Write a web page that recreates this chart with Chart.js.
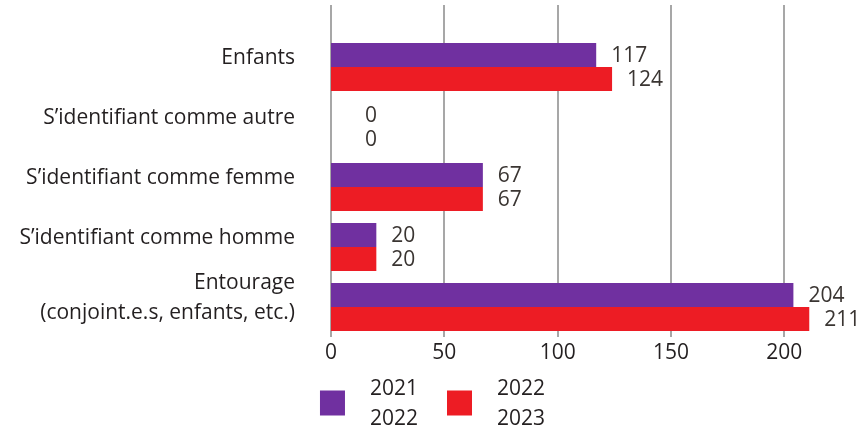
<!DOCTYPE html>
<html>
<head>
<meta charset="utf-8">
<script src="https://cdn.jsdelivr.net/npm/chart.js@4.4.0/dist/chart.umd.min.js"></script>
<style>
  html, body { margin: 0; padding: 0; background: #fff; }
</style>
</head>
<body>
<canvas id="chart" width="859" height="431"></canvas>
<script>
// categories, top to bottom
const categories = [
  'Enfants',
  'S’identifiant comme autre',
  'S’identifiant comme femme',
  'S’identifiant comme homme',
  ['Entourage', '(conjoint.e.s, enfants, etc.)']
];
const label2122 = ['2021', '2022'];
const values2122 = [117, 0, 67, 20, 204];
const label2223 = ['2022', '2023'];
const values2223 = [124, 0, 67, 20, 211];
const xTickValues = [0, 50, 100, 150, 200];

const FONT = '"Open Sans", "Noto Sans", sans-serif';
const TEXT = '#231f20';
const GRID = '#a7a7a7';

// vertical grid lines, running up above the first category
const gridLines = {
  id: 'gridLines',
  beforeDatasetsDraw(chart) {
    const { ctx, chartArea, scales } = chart;
    ctx.save();
    ctx.strokeStyle = GRID;
    ctx.lineWidth = 2;
    xTickValues.forEach(v => {
      const x = Math.round(scales.x.getPixelForValue(v));
      ctx.beginPath();
      ctx.moveTo(x, 5);
      ctx.lineTo(x, chartArea.bottom);
      ctx.stroke();
    });
    ctx.restore();
  }
};

// numbers at the end of each bar
const valueLabels = {
  id: 'valueLabels',
  afterDatasetsDraw(chart) {
    const { ctx, scales } = chart;
    const minX = scales.x.getPixelForValue(15);
    ctx.save();
    ctx.font = `21px ${FONT}`;
    ctx.fillStyle = '#3a3532';
    ctx.textAlign = 'left';
    ctx.textBaseline = 'middle';
    chart.data.datasets.forEach((ds, i) => {
      chart.getDatasetMeta(i).data.forEach((bar, j) => {
        const x = Math.max(bar.x + 15, minX);
        ctx.fillText(String(ds.data[j]), x, bar.y + 1);
      });
    });
    ctx.restore();
  }
};

// legend below the axis: square + two-line label
const bottomLegend = {
  id: 'bottomLegend',
  afterDraw(chart) {
    const { ctx, chartArea } = chart;
    const box = 25, gap = 25, spacing = 29, lineH = 30;
    ctx.save();
    ctx.font = `21px ${FONT}`;
    const items = chart.data.datasets.map(ds => {
      const w = Math.max(...ds.label.map(t => ctx.measureText(t).width));
      return { ds, w };
    });
    const total = items.reduce((s, it) => s + box + gap + it.w, 0) + spacing * (items.length - 1);
    let x = (chart.width - total) / 2 + 3;
    const cy = chartArea.bottom + 66;
    items.forEach(it => {
      ctx.fillStyle = it.ds.backgroundColor;
      ctx.fillRect(x, cy - box / 2, box, box);
      ctx.fillStyle = TEXT;
      ctx.textAlign = 'left';
      ctx.textBaseline = 'middle';
      it.ds.label.forEach((t, k) => {
        ctx.fillText(t, x + box + gap, cy + 1 + (k - 0.5) * lineH);
      });
      x += box + gap + it.w + spacing;
    });
    ctx.restore();
  }
};

new Chart(document.getElementById('chart'), {
  type: 'bar',
  data: {
    labels: categories,
    datasets: [
      { label: label2122, data: values2122, backgroundColor: '#7030a0' },
      { label: label2223, data: values2223, backgroundColor: '#ed1c24' }
    ]
  },
  options: {
    indexAxis: 'y',
    responsive: false,
    animation: false,
    layout: { padding: { top: 37, right: 18, left: 0, bottom: 0 } },
    datasets: { bar: { categoryPercentage: 0.8, barPercentage: 1.0 } },
    plugins: {
      legend: { display: false },
      tooltip: { enabled: false }
    },
    scales: {
      x: {
        min: 0, max: 225,
        afterBuildTicks: s => { s.ticks = xTickValues.map(v => ({ value: v })); },
        afterFit: s => { s.height = 94; },
        grid: { display: false, drawTicks: false },
        border: { display: false },
        ticks: { color: TEXT, font: { family: FONT, size: 21 }, padding: 3, maxRotation: 0 }
      },
      y: {
        // fixed width; drop the label-driven top/bottom padding
        afterFit: s => { s.width = 331; s.paddingTop = 0; s.paddingBottom = 0; },
        grid: { display: false, drawTicks: false },
        border: { display: false },
        ticks: {
          color: TEXT,
          font: { family: FONT, size: 21, lineHeight: 1.4 },
          padding: 36,
          labelOffset: -9,
          autoSkip: false
        }
      }
    }
  },
  plugins: [gridLines, valueLabels, bottomLegend]
});
</script>
</body>
</html>
